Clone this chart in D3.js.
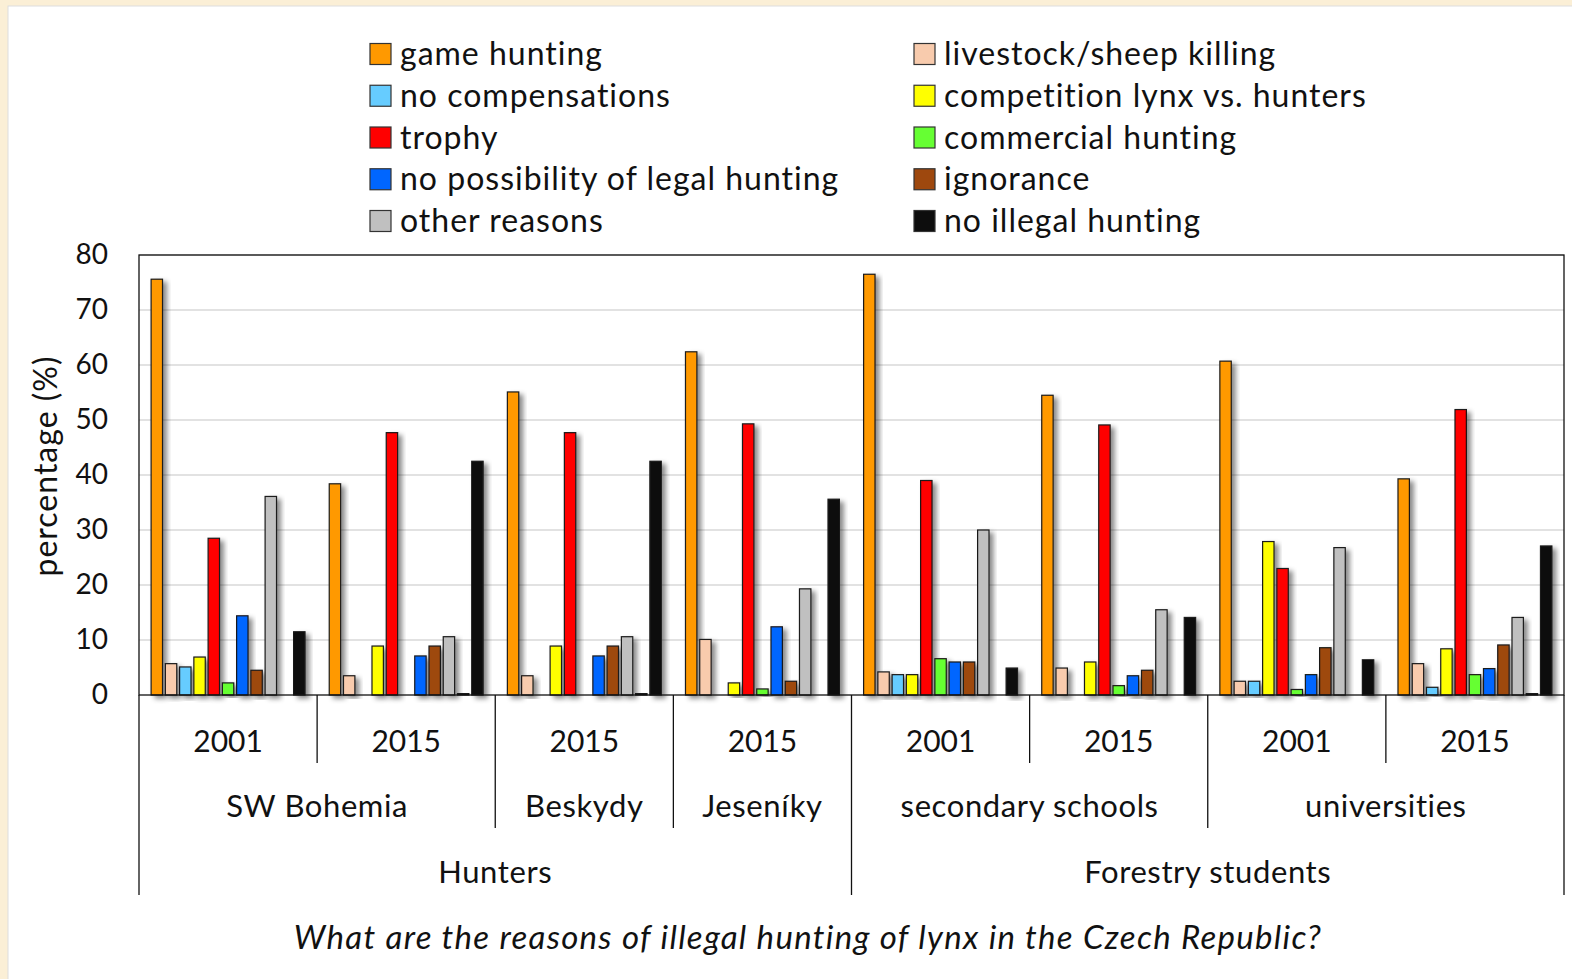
<!DOCTYPE html>
<html>
<head>
<meta charset="utf-8">
<script src="https://cdn.jsdelivr.net/npm/d3@7"></script>
<style>
  body { margin: 0; background: #fbefd6; }
  text { font-family: Lato, "Open Sans", sans-serif; fill: #111; }
</style>
</head>
<body>
<svg id="chart" width="1572" height="979"></svg>
<script>
// categories (one per bar group)
var years = ["2001", "2015", "2015", "2015", "2001", "2015", "2001", "2015"];
var regions = [["SW Bohemia", 2], ["Beskydy", 1], ["Jeseníky", 1], ["secondary schools", 2], ["universities", 2]];
var respondents = [["Hunters", 4], ["Forestry students", 4]];

// series values, one number per group
var gameHunting   = [75.6, 38.4, 55.1, 62.4, 76.5, 54.5, 60.7, 39.3];
var livestock     = [5.7, 3.5, 3.5, 10.1, 4.2, 4.9, 2.5, 5.7];
var noCompens     = [5.1, 0, 0, 0, 3.7, 0, 2.5, 1.4];
var competition   = [6.9, 8.9, 8.9, 2.2, 3.7, 6.0, 27.9, 8.4];
var trophy        = [28.5, 47.7, 47.7, 49.3, 39.0, 49.1, 23.0, 51.9];
var commercial    = [2.2, 0, 0, 1.1, 6.6, 1.7, 1.0, 3.7];
var noLegal       = [14.4, 7.1, 7.1, 12.4, 6.0, 3.5, 3.7, 4.8];
var ignorance     = [4.5, 8.9, 8.9, 2.5, 6.0, 4.5, 8.6, 9.1];
var otherReasons  = [36.1, 10.6, 10.6, 19.3, 30.0, 15.5, 26.8, 14.1];
var noAnswer      = [0, 0.3, 0.3, 0, 0, 0, 0, 0.3];
var noIllegal     = [11.5, 42.5, 42.5, 35.6, 4.9, 14.1, 6.4, 27.1];

var yTicks = [0, 10, 20, 30, 40, 50, 60, 70, 80];

var series = [
  {name: "game hunting", values: gameHunting, color: "#ff9900"},
  {name: "livestock/sheep killing", values: livestock, color: "#f8cbad"},
  {name: "no compensations", values: noCompens, color: "#66ccff"},
  {name: "competition lynx vs. hunters", values: competition, color: "#ffff00"},
  {name: "trophy", values: trophy, color: "#ff0000"},
  {name: "commercial hunting", values: commercial, color: "#66ff33"},
  {name: "no possibility of legal hunting", values: noLegal, color: "#0066ff"},
  {name: "ignorance", values: ignorance, color: "#9e480e"},
  {name: "other reasons", values: otherReasons, color: "#c0c0c0"},
  {name: "", values: noAnswer, color: "#0d0d0d"},
  {name: "no illegal hunting", values: noIllegal, color: "#0d0d0d"}
];

var legendLeft = ["game hunting", "no compensations", "trophy", "no possibility of legal hunting", "other reasons"];
var legendRight = ["livestock/sheep killing", "competition lynx vs. hunters", "commercial hunting", "ignorance", "no illegal hunting"];

var svg = d3.select("#chart");
var plotL = 139, plotR = 1564, plotT = 255, plotB = 695;

// white panel
svg.append("rect").attr("x", 8).attr("y", 6).attr("width", 1572).attr("height", 979)
  .attr("fill", "#fff").attr("stroke", "#ddd");

var defs = svg.append("defs");
var f = defs.append("filter").attr("id", "shadow").attr("x", "-30%").attr("y", "-10%").attr("width", "200%").attr("height", "130%");
f.append("feDropShadow").attr("dx", 4).attr("dy", 3).attr("stdDeviation", 2.6)
  .attr("flood-color", "#000").attr("flood-opacity", 0.45);

var idx = d3.range(years.length);
var x0 = d3.scaleBand().domain(idx).range([plotL, plotR]);
var x1 = d3.scaleBand().domain(d3.range(series.length)).range([0, x0.bandwidth()])
  .paddingInner(0.2).paddingOuter(0.85);
var y = d3.scaleLinear().domain([0, 80]).range([plotB, plotT]);

// gridlines
svg.append("g").selectAll("line").data(yTicks.slice(1)).join("line")
  .attr("x1", plotL).attr("x2", plotR)
  .attr("y1", function(d) { return y(d); }).attr("y2", function(d) { return y(d); })
  .attr("stroke", "#d9d9d9").attr("stroke-width", 1.3);

// y axis labels
var yAxis = d3.axisLeft(y).tickValues(yTicks).tickSize(0).tickPadding(31);
var ya = svg.append("g").attr("transform", "translate(" + plotL + ",0)").call(yAxis);
ya.select(".domain").remove();
ya.selectAll("text").style("font-size", "28px").style("font-family", "Lato, sans-serif").attr("fill", "#111");

svg.append("text").attr("transform", "translate(57,466) rotate(-90)")
  .attr("text-anchor", "middle").style("font-size", "32px").style("letter-spacing", "1px").text("percentage (%)");

// bars
var groups = svg.append("g").selectAll("g").data(idx).join("g")
  .attr("transform", function(i) { return "translate(" + x0(i) + ",0)"; });
groups.selectAll("rect")
  .data(function(i) { return series.map(function(s, k) { return {k: k, v: s.values[i], c: s.color}; }); })
  .join("rect")
  .filter(function(d) { return d.v > 0; })
  .attr("x", function(d) { return x1(d.k); })
  .attr("width", x1.bandwidth())
  .attr("y", function(d) { return y(d.v); })
  .attr("height", function(d) { return y(0) - y(d.v); })
  .attr("fill", function(d) { return d.c; })
  .attr("stroke", "#1a1a1a").attr("stroke-width", 1.2)
  .attr("filter", "url(#shadow)");

// plot border
svg.append("rect").attr("x", plotL).attr("y", plotT).attr("width", plotR - plotL).attr("height", plotB - plotT)
  .attr("fill", "none").attr("stroke", "#111").attr("stroke-width", 1.3);

// x axis: years
var xAxis = d3.axisBottom(x0).tickSize(0).tickPadding(0).tickFormat(function(i) { return years[i]; });
var xa = svg.append("g").attr("transform", "translate(0," + (plotB + 57) + ")").call(xAxis);
xa.select(".domain").remove();
xa.selectAll("text").attr("dy", 0).style("font-size", "30px").style("font-family", "Lato, sans-serif").attr("fill", "#111");

// separators
var sep = svg.append("g").attr("stroke", "#111").attr("stroke-width", 1.3);
function edge(i) { return i < years.length ? x0(i) : plotR; }
var regionEdges = [0], topEdges = [0];
regions.reduce(function(a, r) { regionEdges.push(a + r[1]); return a + r[1]; }, 0);
respondents.reduce(function(a, r) { topEdges.push(a + r[1]); return a + r[1]; }, 0);
idx.concat([years.length]).forEach(function(i) {
  var yb = topEdges.indexOf(i) >= 0 ? 895 : (regionEdges.indexOf(i) >= 0 ? 828 : 763);
  sep.append("line").attr("x1", edge(i)).attr("x2", edge(i)).attr("y1", plotB).attr("y2", yb);
});

// region and respondent labels
var labs = svg.append("g").attr("text-anchor", "middle").style("font-size", "31px").style("letter-spacing", "0.6px");
regions.forEach(function(r, k) {
  var a = edge(regionEdges[k]), b = edge(regionEdges[k + 1]);
  labs.append("text").attr("x", (a + b) / 2).attr("y", 817).text(r[0]);
});
respondents.forEach(function(r, k) {
  var a = edge(topEdges[k]), b = edge(topEdges[k + 1]);
  labs.append("text").attr("x", (a + b) / 2).attr("y", 883).text(r[0]);
});

// caption
svg.append("text").attr("x", 808).attr("y", 949).attr("text-anchor", "middle")
  .style("font-size", "33px").style("font-style", "italic").style("letter-spacing", "1.3px")
  .text("What are the reasons of illegal hunting of lynx in the Czech Republic?");

// legend
function colorOf(name) { return series.find(function(s) { return s.name === name; }).color; }
[[legendLeft, 370], [legendRight, 914]].forEach(function(col) {
  var lg = svg.append("g").selectAll("g").data(col[0]).join("g")
    .attr("transform", function(d, k) { return "translate(" + col[1] + "," + (54 + k * 41.75) + ")"; });
  lg.append("rect").attr("x", 0).attr("y", -10.5).attr("width", 21).attr("height", 21)
    .attr("fill", function(d) { return colorOf(d); }).attr("stroke", "#333").attr("stroke-width", 1.2);
  lg.append("text").attr("x", 30).attr("y", 11).style("font-size", "32px").style("letter-spacing", "1px")
    .text(function(d) { return d; });
});
</script>
</body>
</html>
